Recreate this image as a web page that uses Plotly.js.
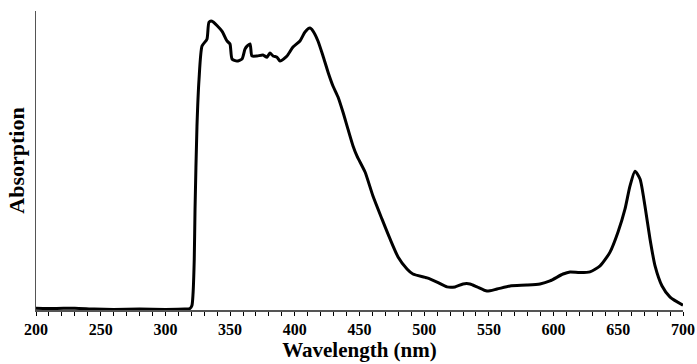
<!DOCTYPE html>
<html>
<head>
<meta charset="utf-8">
<script src="https://cdn.plot.ly/plotly-3.0.1.min.js"></script>
<style>html,body{margin:0;padding:0;background:#fff;}#chart{width:697px;height:364px;}</style>
</head>
<body>
<div id="chart"></div>
<script>
const wavelength = [200,215,230,245,260,280,300,315,319,320.5,321.3,322.3,322.9,324.4,326.0,328.3,332.1,333.7,336.0,343.7,347.6,349.9,351.5,355.3,359.2,361.5,363.1,365.4,366.9,370.8,375.4,378.5,380.8,383.2,386.2,388.6,394.0,398.6,404.0,407.9,411.7,414.1,417.9,421.8,425.7,429.5,433.4,437.2,441.1,445.0,448.1,454.3,460.4,467.4,473.6,479.8,486.7,491.3,502.2,509.9,517.6,523.8,530.0,535.4,540.8,548.5,556.3,566.3,579.4,589.5,597.2,607.3,612.7,620,628.1,635.9,643.6,649.8,655.2,659.0,662.9,666.8,670.6,674.5,678.4,683.8,690.0,700];
const absorption = [0.006,0.005,0.006,0.003,0.002,0.003,0.002,0.003,0.005,0.015,0.05,0.17,0.337,0.613,0.77,0.88,0.903,0.96,0.963,0.93,0.897,0.887,0.837,0.83,0.837,0.87,0.88,0.887,0.847,0.847,0.85,0.843,0.857,0.847,0.843,0.83,0.847,0.877,0.897,0.927,0.94,0.93,0.897,0.847,0.793,0.747,0.71,0.66,0.603,0.547,0.513,0.46,0.38,0.303,0.237,0.177,0.137,0.12,0.107,0.093,0.077,0.077,0.087,0.087,0.077,0.063,0.07,0.08,0.083,0.087,0.097,0.12,0.127,0.125,0.127,0.147,0.193,0.26,0.337,0.413,0.463,0.437,0.347,0.237,0.147,0.08,0.043,0.016];
const tickPositions = [200,210,220,230,240,250,260,270,280,290,300,310,320,330,340,350,360,370,380,390,400,410,420,430,440,450,460,470,480,490,500,510,520,530,540,550,560,570,580,590,600,610,620,630,640,650,660,670,680,690,700];
const tickLabels = tickPositions.map(v => v % 50 === 0 ? String(v) : '');

const serif = '"Liberation Serif", "Times New Roman", serif';

Plotly.newPlot('chart', [{
  x: wavelength, y: absorption, type: 'scatter', mode: 'lines',
  line: {color: '#000', width: 3, shape: 'spline', smoothing: 0.6},
  hoverinfo: 'skip'
}], {
  width: 697, height: 364,
  margin: {l: 36, r: 14, t: 11, b: 54},
  paper_bgcolor: '#fff', plot_bgcolor: '#fff',
  showlegend: false,
  xaxis: {
    range: [200, 700], tickmode: 'array', tickvals: tickPositions,
    ticktext: tickLabels, tickangle: 0,
    ticks: 'outside', ticklen: 4, tickwidth: 1, tickcolor: '#000',
    showline: true, linecolor: '#555', linewidth: 1.5,
    showgrid: false, zeroline: false,
    tickfont: {family: serif, size: 16, color: '#000', weight: 700},
    title: {text: 'Wavelength (nm)', font: {family: serif, size: 21, color: '#000', weight: 700}, standoff: 3}
  },
  yaxis: {
    range: [0, 0.997], showticklabels: false, ticks: '',
    showline: true, linecolor: '#555', linewidth: 1.5,
    showgrid: false, zeroline: false,
    title: {text: 'Absorption', font: {family: serif, size: 22, color: '#000', weight: 700}, standoff: 4}
  }
}, {displayModeBar: false, staticPlot: true});
</script>
</body>
</html>
